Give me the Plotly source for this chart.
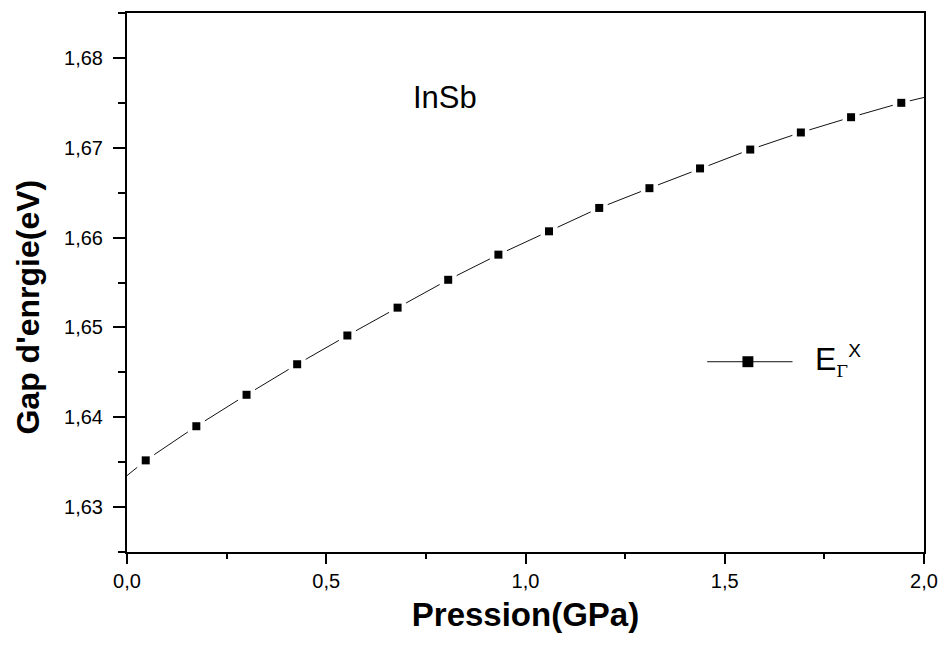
import plotly.graph_objects as go

# Data
pression = [0.047, 0.174, 0.300, 0.427, 0.553, 0.679, 0.806, 0.932,
            1.059, 1.185, 1.311, 1.438, 1.564, 1.691, 1.817, 1.943]
gap = [1.6352, 1.6390, 1.6425, 1.6459, 1.6491, 1.6522, 1.6553, 1.6581,
       1.6607, 1.6633, 1.6655, 1.6677, 1.6698, 1.6717, 1.6734, 1.6750]
# fitted curve end points (line extends to the axes)
curve_start = (0.0, 1.6335)
curve_end = (2.0, 1.6756)

x_ticks = [0.0, 0.5, 1.0, 1.5, 2.0]
y_ticks = [1.63, 1.64, 1.65, 1.66, 1.67, 1.68]

series_name = "E<sub><span style='font-family:DejaVu Serif;font-size:17px'>Γ</span></sub><sup><span style='font-size:19px'>X</span></sup>"

curve_x = [curve_start[0]] + pression + [curve_end[0]]
curve_y = [curve_start[1]] + gap + [curve_end[1]]

FONT = "Liberation Sans, Arial, sans-serif"

fig = go.Figure()
# thin line with white halos around the markers (gap effect)
fig.add_trace(go.Scatter(
    x=curve_x, y=curve_y, mode="lines", line=dict(color="#111111", width=1),
    showlegend=False, hoverinfo="skip"))
fig.add_trace(go.Scatter(
    x=pression, y=gap, mode="markers",
    marker=dict(symbol="square", size=17, color="white"),
    showlegend=False, hoverinfo="skip"))
fig.add_trace(go.Scatter(
    x=pression, y=gap, mode="markers", name="E_Γ^X",
    marker=dict(symbol="square", size=8, color="black"),
    showlegend=False))

axis_common = dict(
    showgrid=False, zeroline=False, showline=True, linecolor="black",
    linewidth=2, mirror=True, ticks="outside", tickwidth=2,
    tickcolor="black", tickfont=dict(family=FONT, size=20, color="black"))

fig.update_xaxes(
    range=[0, 2.0], tickvals=x_ticks, tickformat=".1f", ticklen=10,
    minor=dict(dtick=0.25, ticks="outside", ticklen=5, tickwidth=2, tickcolor="black"),
    title=dict(text="<b>Pression(GPa)</b>", font=dict(family=FONT, size=33, color="black"),
               standoff=12),
    **axis_common)
fig.update_yaxes(
    range=[1.625, 1.685], tickvals=y_ticks, tickformat=".2f", ticklen=12,
    ticklabelstandoff=6,
    minor=dict(dtick=0.005, ticks="outside", ticklen=7, tickwidth=2, tickcolor="black"),
    **axis_common)

fig.add_annotation(
    text="<b>Gap d'enrgie(eV)</b>", textangle=-90, xref="paper", yref="paper",
    x=-0.1245, y=0.455, xanchor="center", yanchor="middle", showarrow=False,
    font=dict(family=FONT, size=32, color="black"))
fig.add_annotation(
    text="InSb", xref="x", yref="y", x=0.797, y=1.6756, showarrow=False,
    xanchor="center", yanchor="middle",
    font=dict(family=FONT, size=31, color="black"))

# legend drawn by hand (long sample line as in the reference)
fig.add_shape(type="line", xref="paper", yref="paper",
              x0=0.728, x1=0.835, y0=0.353, y1=0.353,
              line=dict(color="#111111", width=1))
fig.add_shape(type="rect", xref="paper", yref="paper",
              x0=0.7722, x1=0.7859, y0=0.3429, y1=0.3632,
              line=dict(width=0), fillcolor="black")
fig.add_annotation(
    text=series_name, xref="paper", yref="paper", x=0.861, y=0.355,
    xanchor="left", yanchor="middle", showarrow=False,
    font=dict(family=FONT, size=32, color="black"))

fig.update_layout(
    width=949, height=646,
    margin=dict(l=127, r=21, t=11, b=94),
    plot_bgcolor="white", paper_bgcolor="white",
    separators=", ",
    showlegend=False,
)

fig.write_html("out.html", config={"displayModeBar": False},
               post_script="document.body.style.margin='0';")
